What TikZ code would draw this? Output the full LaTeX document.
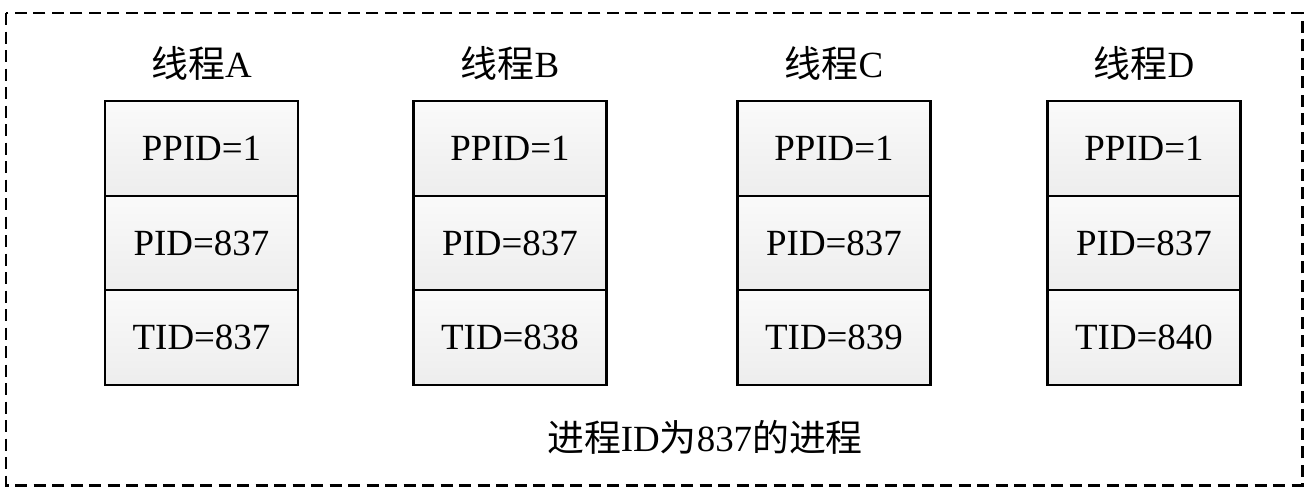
\documentclass[tikz,border=0pt]{standalone}
\usepackage{fontspec}
\setmainfont{Liberation Serif}
\newfontfamily\cjk{Noto Sans CJK SC}
\usetikzlibrary{positioning}
\tikzset{
    thread diagram/.style = {font=\fontsize{21}{24}\selectfont},
    cell/.style           = {draw, line width=1.3pt,
                             top color=black!2, bottom color=black!7,
                             minimum width=3.86cm, minimum height=1.893cm,
                             inner sep=0pt, outer sep=0pt},
    caption/.style        = {inner sep=0pt},
    enclosure/.style      = {draw, line width=1.7pt,
                             dash pattern=on 0.24cm off 0.13cm}
}
\def\celltop{-2.967}

\begin{document}
\begin{tikzpicture}[thread diagram]
\useasboundingbox (0,0) rectangle (26.22,-9.92);

% One column of three stacked ID cells per thread.
\foreach \t/\x/\tid in {A/4.03/837, B/10.2/838, C/16.68/839, D/22.88/840} {
    \node[cell] (ppid\t) at (\x,\celltop) {PPID=1};
    \node[cell, below=0pt of ppid\t] (pid\t) {PID=837};
    \node[cell, below=0pt of pid\t] (tid\t) {TID=\tid};
    \node[caption] (title\t) at (\x,-1.26) {{\cjk 线程}\t};
}

% Dashed frame of the process and its caption.
\node[caption] (process) at (14.1,-8.74) {{\cjk 进程}ID{\cjk 为}837{\cjk 的进程}};
\draw[enclosure] (0.12,-0.26) rectangle (26.04,-9.7);

\end{tikzpicture}
\end{document}
